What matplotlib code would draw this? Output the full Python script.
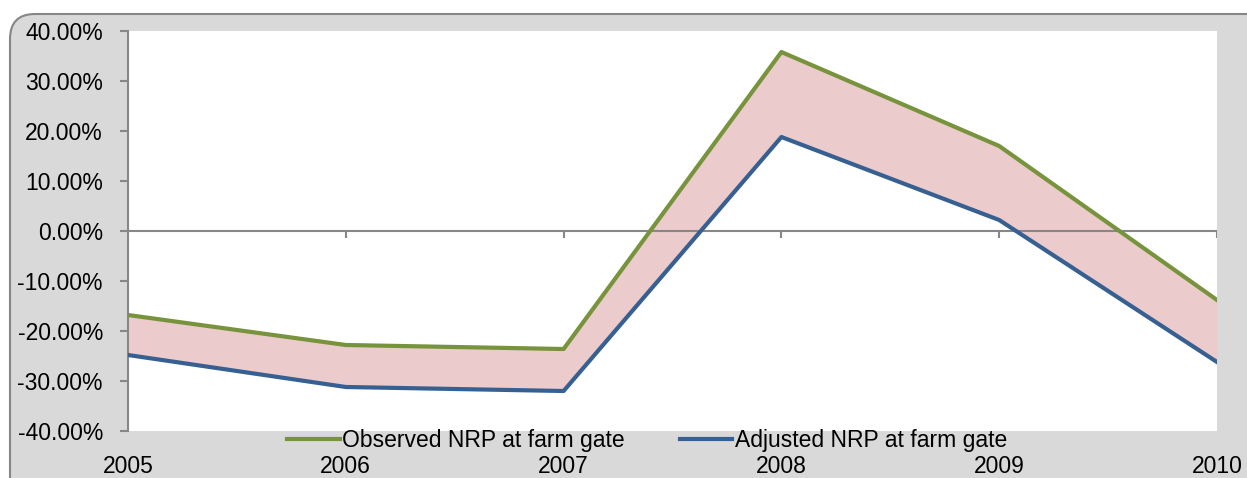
import matplotlib.pyplot as plt
from matplotlib.patches import FancyBboxPatch
from matplotlib.transforms import IdentityTransform
from matplotlib.ticker import FuncFormatter

years = ['2005', '2006', '2007', '2008', '2009', '2010']
observed = [-16.8, -22.8, -23.6, 35.8, 17.0, -13.8]
adjusted = [-24.8, -31.2, -32.0, 18.8, 2.2, -26.2]
yticks = [-40, -30, -20, -10, 0, 10, 20, 30, 40]

green = '#77933C'
blue = '#376092'
pink = '#EBCBCB'
grey = '#878787'

plt.rcParams['font.family'] = ['Liberation Sans', 'DejaVu Sans']
fs = 16.5

W, H = 1247, 478
fig = plt.figure(figsize=(W / 100, H / 100), dpi=100)
fig.patch.set_facecolor('white')

# rounded grey chart area
box = FancyBboxPatch((10 + 25, 3 - 40), W + 60, H - 14 - 3 + 40 - 25,
                     boxstyle='round,pad=25,rounding_size=25',
                     transform=IdentityTransform(), facecolor='#D9D9D9',
                     edgecolor='#868686', linewidth=1.5, zorder=-5)
fig.patches.append(box)

ax = fig.add_axes([128 / W, 1 - 431 / H, (1217 - 128) / W, 400 / H])
ax.set_facecolor('white')

x = list(range(len(years)))
ax.fill_between(x, adjusted, observed, color=pink, linewidth=0, zorder=1)
ax.axhline(0, color=grey, linewidth=1.5, zorder=2)
ax.vlines(x[1:], -1.4, 0, color=grey, linewidth=1.5, zorder=2)
l1, = ax.plot(x, observed, color=green, linewidth=3, label='Observed NRP at farm gate', zorder=3)
l2, = ax.plot(x, adjusted, color=blue, linewidth=3, label='Adjusted NRP at farm gate', zorder=3)

ax.set_xlim(0, len(years) - 1)
ax.set_ylim(-40, 40)
ax.set_yticks(yticks)
ax.yaxis.set_major_formatter(FuncFormatter(lambda v, p: '%.2f%%' % v))
ax.set_xticks(x)
ax.set_xticklabels(years)

for s in ['top', 'right', 'bottom']:
    ax.spines[s].set_visible(False)
ax.spines['left'].set_color(grey)
ax.spines['left'].set_linewidth(1.5)
ax.tick_params(axis='y', direction='out', length=6, width=1.5, color=grey,
               labelsize=fs, pad=12)
ax.tick_params(axis='x', length=0, labelsize=fs, pad=17)

fig.legend(handles=[l1, l2], loc='center', bbox_to_anchor=(647 / W, 1 - 441 / H),
           ncol=2, frameon=False, fontsize=fs, handlelength=2.3,
           handletextpad=0.1, columnspacing=2.4, borderpad=0)

fig.savefig('out.png', dpi=100, facecolor='white')
